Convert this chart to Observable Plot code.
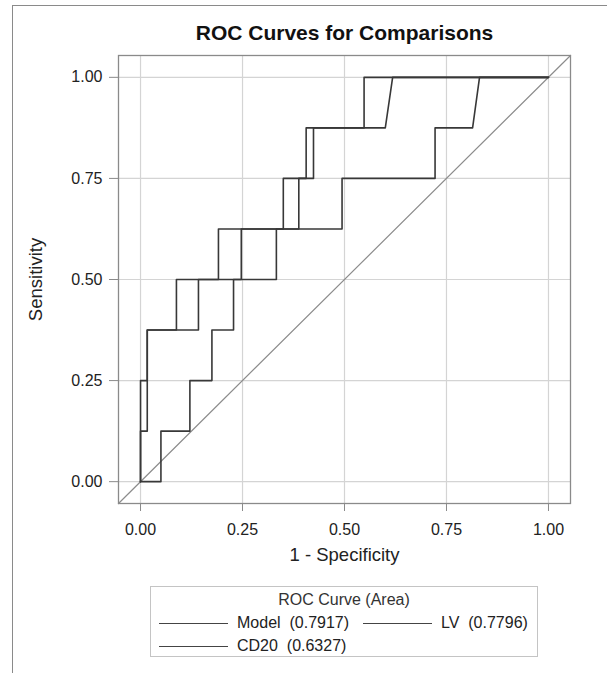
<!DOCTYPE html>
<html>
<head>
<meta charset="utf-8">
<script src="https://cdn.jsdelivr.net/npm/d3@7"></script>
<script src="https://cdn.jsdelivr.net/npm/@observablehq/plot@0.6"></script>
<style>
  html, body { margin: 0; padding: 0; background: #fff; overflow: hidden; }
  body { width: 607px; height: 673px; position: relative; font-family: "Liberation Sans", Arial, sans-serif; color: #222; }
  #border { position: absolute; left: 12px; top: 5px; width: 800px; height: 800px; border: 1px solid #8a8a8a; box-sizing: border-box; }
  #chart { position: absolute; left: 0; top: 0; }
  #legend { position: absolute; left: 150px; top: 586px; width: 388px; height: 71px; border: 1px solid #c4c4c4; box-sizing: border-box; background: #fff; }
  #legend .ttl { position: absolute; left: 0; width: 100%; top: 4px; text-align: center; font-size: 16px; color: #333; }
  #legend .item { position: absolute; height: 20px; font-size: 16px; color: #222; white-space: pre; }
  #legend .sw { position: absolute; top: 10px; width: 69px; border-top: 1.4px solid #444; }
  #legend .lab { position: absolute; left: 78px; top: 0px; line-height: 20px; }
</style>
</head>
<body>
<div id="border"></div>
<div id="chart"></div>
<div id="legend"></div>
<script>
// ---- data ----
const seriesNames = ["Model", "LV", "CD20"];
const seriesAUC = ["0.7917", "0.7796", "0.6327"];

// ROC vertices: 1 - Specificity (x) and Sensitivity (y)
const modelFpr = [0, 0, 0.0165, 0.0165, 0.088, 0.088, 0.191, 0.191, 0.35, 0.35, 0.406, 0.406, 0.6, 0.618, 1];
const modelTpr = [0, 0.125, 0.125, 0.375, 0.375, 0.5, 0.5, 0.625, 0.625, 0.75, 0.75, 0.875, 0.875, 1, 1];

const lvFpr = [0, 0, 0.0165, 0.0165, 0.142, 0.142, 0.247, 0.247, 0.388, 0.388, 0.424, 0.424, 0.548, 0.548, 1];
const lvTpr = [0, 0.25, 0.25, 0.375, 0.375, 0.5, 0.5, 0.625, 0.625, 0.75, 0.75, 0.875, 0.875, 1, 1];

const cd20Fpr = [0, 0.05, 0.05, 0.121, 0.121, 0.175, 0.175, 0.228, 0.228, 0.333, 0.333, 0.494, 0.494, 0.722, 0.722, 0.814, 0.831, 1];
const cd20Tpr = [0, 0, 0.125, 0.125, 0.25, 0.25, 0.375, 0.375, 0.5, 0.5, 0.625, 0.625, 0.75, 0.75, 0.875, 0.875, 1, 1];

const xTicks = [0, 0.25, 0.5, 0.75, 1];
const yTicks = [0, 0.25, 0.5, 0.75, 1];
const axisDomain = [-0.054, 1.054];

const titleText = "ROC Curves for Comparisons";
const xLabel = "1 - Specificity";
const yLabel = "Sensitivity";
const legendTitle = "ROC Curve (Area)";

// ---- build tidy table ----
const curves = [
  {name: "Model", x: modelFpr, y: modelTpr},
  {name: "LV", x: lvFpr, y: lvTpr},
  {name: "CD20", x: cd20Fpr, y: cd20Tpr}
];
const rows = curves.flatMap(c => c.x.map((xv, i) => ({series: c.name, fpr: xv, tpr: c.y[i]})));

const fmt = d3.format(".2f");

const plot = Plot.plot({
  width: 607,
  height: 578,
  marginLeft: 118,
  marginRight: 37,
  marginTop: 55,
  marginBottom: 75,
  style: {fontFamily: "'Liberation Sans', Arial, sans-serif", fontSize: "16px", color: "#222", background: "transparent"},
  x: {domain: axisDomain, ticks: xTicks},
  y: {domain: axisDomain, ticks: yTicks},
  marks: [
    Plot.frame({fill: "#fff", stroke: "none"}),
    Plot.gridX(xTicks, {stroke: "#d4d4d4", strokeOpacity: 1, strokeWidth: 1.2}),
    Plot.gridY(yTicks, {stroke: "#d4d4d4", strokeOpacity: 1, strokeWidth: 1.2}),
    Plot.line(axisDomain, {x: d => d, y: d => d, stroke: "#8c8c8c", strokeWidth: 1.2}),
    Plot.line(rows, {x: "fpr", y: "tpr", z: "series", stroke: "#383838", strokeWidth: 1.6, curve: "linear"}),
    Plot.frame({stroke: "#8a8a8a", strokeWidth: 1.3}),
    Plot.axisX(xTicks, {tickFormat: fmt, tickSize: 8, tickPadding: 12, stroke: "#8a8a8a", fontSize: 16, label: null}),
    Plot.axisY(yTicks, {tickFormat: fmt, tickSize: 9, tickPadding: 7, stroke: "#8a8a8a", fontSize: 16, label: null}),
    Plot.text([titleText], {frameAnchor: "top", lineAnchor: "middle", textAnchor: "middle", dy: -22, fontSize: 21, fontWeight: "bold", fill: "#111"}),
    Plot.text([xLabel], {frameAnchor: "bottom", lineAnchor: "middle", textAnchor: "middle", dy: 52, fontSize: 18.5, fill: "#222"}),
    Plot.text([yLabel], {frameAnchor: "left", lineAnchor: "middle", textAnchor: "middle", dx: -82, rotate: -90, fontSize: 18.5, fill: "#222"})
  ]
});
document.getElementById("chart").appendChild(plot);

// ---- legend ----
const legend = document.getElementById("legend");
const t = document.createElement("div");
t.className = "ttl";
t.textContent = legendTitle;
legend.appendChild(t);
const itemPos = [[8, 26], [212, 26], [8, 49]];
seriesNames.forEach((name, i) => {
  const it = document.createElement("div");
  it.className = "item";
  it.style.left = itemPos[i][0] + "px";
  it.style.top = itemPos[i][1] + "px";
  const sw = document.createElement("div");
  sw.className = "sw";
  const lab = document.createElement("div");
  lab.className = "lab";
  lab.textContent = name + "  (" + seriesAUC[i] + ")";
  it.appendChild(sw);
  it.appendChild(lab);
  legend.appendChild(it);
});
</script>
</body>
</html>
